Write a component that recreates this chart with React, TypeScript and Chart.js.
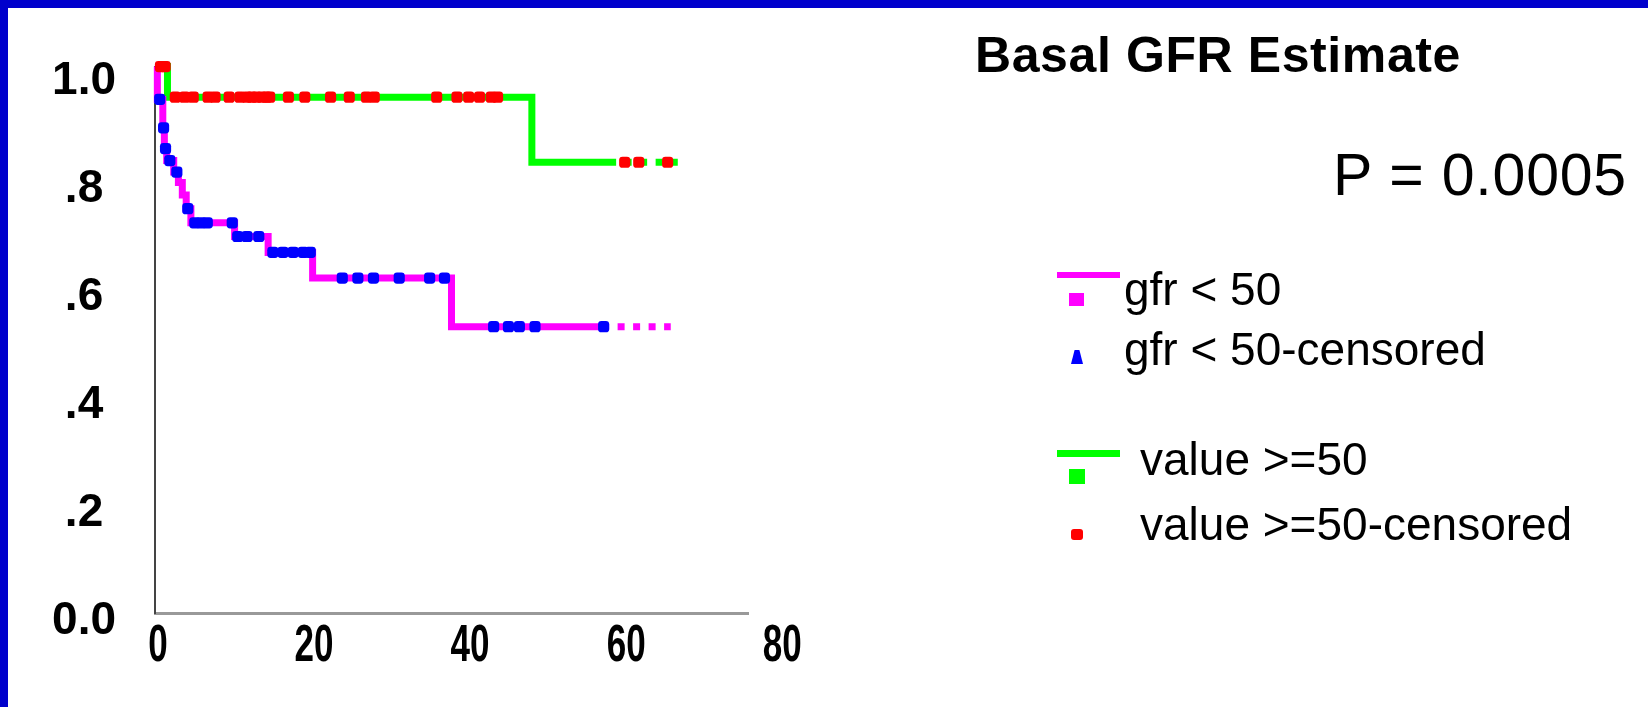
import React, { useEffect, useRef } from "react";
import { Chart, registerables } from "chart.js";
import { renderText } from "chart.js/helpers";

Chart.register(...registerables);

// ---- data ----
const X_TICKS = [0, 20, 40, 60, 80];
const Y_TICK_LABELS = ["0.0", ".2", ".4", ".6", ".8", "1.0"];
// where each y label sits on the (slightly shifted) survival scale of the picture
const Y_TICK_POSITIONS = [-0.0145, 0.183, 0.38, 0.578, 0.775, 0.973];

// gfr < 50 : Kaplan-Meier steps (months, cumulative survival)
const LOW_TIMES = [0, 0.3, 1.0, 1.2, 1.5, 2.4, 3.0, 3.5, 4.0, 4.6, 10.2, 14.5, 20.2, 38.0, 58.2, 66.1];
const LOW_SURV = [1.0, 0.94, 0.888, 0.85, 0.828, 0.807, 0.788, 0.765, 0.74, 0.714, 0.689, 0.66, 0.613, 0.524, 0.524, 0.524];
const LOW_DASH_FROM = 58.2;
// gfr < 50 censored times
const LOW_CENSORED = [0.6, 1.1, 1.35, 1.9, 2.8, 4.2, 5.1, 5.9, 6.7, 9.9, 10.6, 11.8, 13.3, 15.1, 16.4, 17.7, 19.0, 19.9, 24.0, 26.0, 28.0, 31.3, 35.2, 37.1, 43.4, 45.3, 46.7, 48.7, 57.5];

// value >= 50
const HIGH_TIMES = [0, 1.6, 48.3, 59.1, 67.0];
const HIGH_SURV = [1.0, 0.944, 0.825, 0.825, 0.825];
const HIGH_DASH_FROM = 59.1;
const HIGH_CENSORED = [0.7, 1.3, 2.6, 3.8, 4.9, 6.8, 7.7, 9.5, 10.9, 11.8, 12.4, 13.0, 13.7, 14.3, 14.7, 17.1, 19.2, 22.5, 24.9, 27.1, 28.1, 36.1, 38.7, 40.2, 41.6, 43.1, 43.9, 60.2, 62.0, 65.7];

const TITLE = "Basal GFR Estimate";
const P_TEXT = "P = 0.0005";
const LEGEND_LABELS = ["gfr < 50", "gfr < 50-censored", "value >=50", "value >=50-censored"];

const PINK = "#ff00ff";
const BLUE = "#0000ff";
const GREEN = "#00ff00";
const RED = "#ff0000";
const FRAME = "#0000cc";
const FONT = '"Liberation Sans", Arial, Helvetica, sans-serif';
const X_DIGIT_WIDTH = 19.5; // the x labels of the picture are a condensed face

function survAt(times: number[], surv: number[], t: number) {
  let s = surv[0];
  for (let i = 0; i < times.length; i++) {
    if (times[i] <= t) s = surv[i];
  }
  return s;
}

const toPoints = (times: number[], surv: number[]) => times.map((t, i) => ({ x: t, y: surv[i] }));
const censPoints = (cens: number[], times: number[], surv: number[]) =>
  cens.map((t) => ({ x: t, y: survAt(times, surv, t) }));

// draw the x tick labels of the library condensed (canvas maxWidth)
const narrowXLabels = {
  id: "narrowXLabels",
  beforeDraw(chart: any) {
    const sc = chart.scales.x;
    if (!sc || sc.__narrow) return;
    sc.__narrow = true;
    sc.drawLabels = function (chartArea: any) {
      const ctx = this.ctx;
      const items = this.getLabelItems(chartArea);
      for (const item of items) {
        const tr = item.options.translation;
        const opts = {
          ...item.options,
          translation: [tr[0] + 3, tr[1]],
          maxWidth: String(item.label).length * X_DIGIT_WIDTH,
        };
        renderText(ctx, item.label, 0, item.textOffset, item.font, opts);
      }
    };
  },
};

function Text({ text, left, baseline, size, bold, spacing }: any) {
  return (
    <div
      style={{
        position: "absolute",
        left,
        top: baseline - 0.8465 * size,
        fontFamily: FONT,
        fontSize: size,
        lineHeight: `${size}px`,
        fontWeight: bold ? 700 : 400,
        letterSpacing: spacing || 0,
        color: "#000",
        whiteSpace: "nowrap",
      }}
    >
      {text}
    </div>
  );
}

function Box({ left, top, width, height, color, style }: any) {
  return <div style={{ position: "absolute", left, top, width, height, background: color, ...(style || {}) }} />;
}

export default function App() {
  const ref = useRef<HTMLCanvasElement | null>(null);

  useEffect(() => {
    if (!ref.current) return;
    const dashSeg = (from: number) => (ctx: any) => (ctx.p0.parsed.x >= from ? [7, 8.5] : undefined);
    const dashOff = (from: number) => (ctx: any) => (ctx.p0.parsed.x >= from ? 7 : undefined);
    const chart = new Chart(ref.current, {
      type: "scatter",
      plugins: [narrowXLabels],
      data: {
        datasets: [
          {
            label: "gfr < 50-censored",
            data: censPoints(LOW_CENSORED, LOW_TIMES, LOW_SURV),
            showLine: false,
            pointStyle: "rectRounded",
            pointRadius: 6.5,
            backgroundColor: BLUE,
            borderWidth: 0,
            order: 0,
            clip: false,
          } as any,
          {
            label: "value >=50-censored",
            data: censPoints(HIGH_CENSORED, HIGH_TIMES, HIGH_SURV),
            showLine: false,
            pointStyle: "rectRounded",
            pointRadius: 6.5,
            backgroundColor: RED,
            borderWidth: 0,
            order: 0,
            clip: false,
          } as any,
          {
            label: "gfr < 50",
            data: toPoints(LOW_TIMES, LOW_SURV),
            showLine: true,
            stepped: "before",
            borderColor: PINK,
            borderWidth: 7,
            borderJoinStyle: "miter",
            borderCapStyle: "butt",
            pointRadius: 0,
            order: 1,
            clip: false,
            segment: { borderDash: dashSeg(LOW_DASH_FROM), borderDashOffset: dashOff(LOW_DASH_FROM) },
          } as any,
          {
            label: "value >=50",
            data: toPoints(HIGH_TIMES, HIGH_SURV),
            showLine: true,
            stepped: "before",
            borderColor: GREEN,
            borderWidth: 7,
            borderJoinStyle: "miter",
            borderCapStyle: "butt",
            pointRadius: 0,
            order: 2,
            clip: false,
            segment: { borderDash: dashSeg(HIGH_DASH_FROM), borderDashOffset: dashOff(HIGH_DASH_FROM) },
          } as any,
        ],
      },
      options: {
        animation: false,
        responsive: false,
        maintainAspectRatio: false,
        events: [],
        layout: { padding: { left: 0, top: 58, right: 900, bottom: 0 } },
        plugins: { legend: { display: false }, tooltip: { enabled: false }, title: { display: false } },
        scales: {
          x: {
            type: "linear",
            min: 0,
            max: 76,
            grid: { display: false, drawTicks: false },
            border: { display: true, color: "#999999", width: 3 },
            ticks: {
              autoSkip: false,
              maxRotation: 0,
              padding: 2,
              color: "#000",
              font: { family: FONT, size: 52, weight: "bold" },
              callback: (v: any) => String(v),
            },
            afterBuildTicks: (s: any) => {
              s.ticks = X_TICKS.map((v) => ({ value: v }));
            },
            afterFit: (s: any) => {
              s.height = 94;
            },
          },
          y: {
            type: "linear",
            min: 0,
            max: 1,
            grid: { display: false, drawTicks: false },
            border: { display: true, color: "#444444", width: 2 },
            ticks: {
              autoSkip: false,
              crossAlign: "center",
              padding: 39,
              color: "#000",
              font: { family: FONT, size: 46, weight: "bold" },
              callback: (_v: any, i: number) => Y_TICK_LABELS[i],
            },
            afterBuildTicks: (s: any) => {
              s.ticks = Y_TICK_POSITIONS.map((v) => ({ value: v }));
            },
            afterFit: (s: any) => {
              s.width = 155;
            },
          },
        },
      } as any,
    });
    return () => chart.destroy();
  }, []);

  return (
    <div
      style={{
        position: "fixed",
        left: 0,
        top: 0,
        width: 1648,
        height: 707,
        background: "#ffffff",
        overflow: "hidden",
      }}
    >
      <canvas ref={ref} width={1648} height={707} style={{ position: "absolute", left: 0, top: 0, width: 1648, height: 707 }} />
      <Box left={0} top={0} width={1648} height={8} color={FRAME} />
      <Box left={0} top={0} width={8} height={707} color={FRAME} />

      <Text text={TITLE} left={975} baseline={72} size={50} bold spacing={0.6} />
      <Text text={P_TEXT} left={1333} baseline={196} size={59} spacing={0.8} />

      <Box left={1057} top={272} width={63} height={6} color={PINK} />
      <Box left={1069} top={293} width={15} height={13} color={PINK} />
      <Text text={LEGEND_LABELS[0]} left={1124} baseline={305} size={46} />

      <Box left={1071} top={350} width={12} height={14} color={BLUE} style={{ clipPath: "polygon(30% 0, 70% 0, 100% 100%, 0 100%)" }} />
      <Text text={LEGEND_LABELS[1]} left={1124} baseline={365} size={46} />

      <Box left={1057} top={450} width={63} height={7} color={GREEN} />
      <Box left={1069} top={469} width={16} height={15} color={GREEN} />
      <Text text={LEGEND_LABELS[2]} left={1140} baseline={475} size={46} />

      <Box left={1071} top={529} width={12} height={11} color={RED} style={{ borderRadius: 3 }} />
      <Text text={LEGEND_LABELS[3]} left={1140} baseline={540} size={46} />
    </div>
  );
}
